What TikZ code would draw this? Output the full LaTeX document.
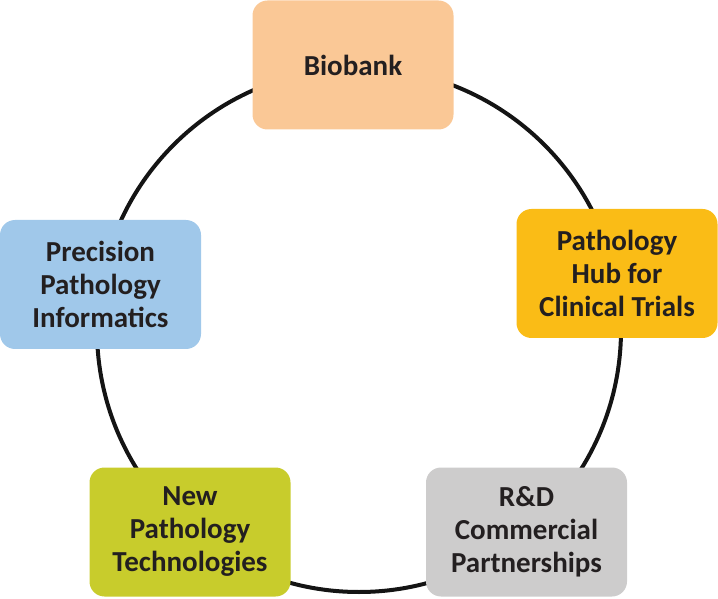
\documentclass[tikz,border=0pt]{standalone}
\usepackage{fontspec}
\setmainfont{Carlito}
\definecolor{biobankfill}{HTML}{FAC896}
\definecolor{hubfill}{HTML}{FABC16}
\definecolor{partnerfill}{HTML}{CDCCCC}
\definecolor{techfill}{HTML}{C8CC2C}
\definecolor{informfill}{HTML}{A0C8EA}
\definecolor{labeltext}{HTML}{231F20}
\tikzset{stagebox/.style={rounded corners=15pt, minimum width=201pt, minimum height=129pt,
    inner sep=0pt, align=center, text=labeltext, font=\fontsize{29}{33}\selectfont\bfseries}}

\begin{document}
\begin{tikzpicture}[x=1pt,y=1pt]
			%%%%% START %%%%%
			\useasboundingbox (0,0) rectangle (718,598);
			
			\draw[line width=4pt, color=black!92] (359,268) circle (262pt);
			
			\node[stagebox, fill=biobankfill] (biobank) at (353,533) {Biobank};
			\node[stagebox, fill=hubfill] (hub) at (617,324.5) {Pathology\\Hub for\\Clinical Trials};
			\node[stagebox, fill=partnerfill] (partner) at (526.5,66) {R\&D\\Commercial\\Partnerships};
			\node[stagebox, fill=techfill] (tech) at (190,66) {New\\Pathology\\Technologies};
			\node[stagebox, fill=informfill] (inform) at (100.5,313.5) {Precision\\Pathology\\Informatics};
			
			%%%%% END %%%%%
\end{tikzpicture}
\end{document}
